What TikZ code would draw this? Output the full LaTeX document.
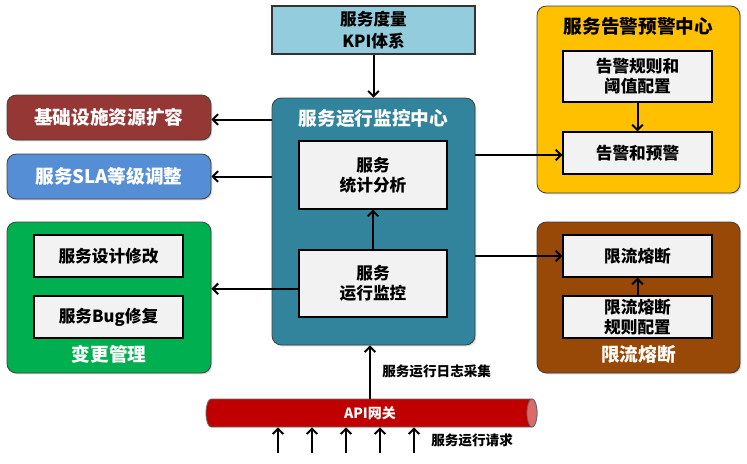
\documentclass[tikz,border=0pt]{standalone}
\usepackage{fontspec}
\setmainfont{Noto Sans CJK SC}
\usetikzlibrary{arrows.meta,shadows}
\definecolor{kpiblue}{HTML}{93CDDD}
\definecolor{monteal}{HTML}{31849B}
\definecolor{infrared}{HTML}{953735}
\definecolor{slablue}{HTML}{558ED5}
\definecolor{chggreen}{HTML}{00B050}
\definecolor{alertyellow}{HTML}{FFC000}
\definecolor{limbrown}{HTML}{984807}
\definecolor{innergray}{HTML}{F2F2F2}
\definecolor{apired}{HTML}{C00000}
\definecolor{apiend}{HTML}{D96B6B}
\begin{document}
\begin{tikzpicture}[x=0.75pt,y=-0.75pt,
  sz/.style 2 args={minimum width=#1, minimum height=#2},
  outer/.style={draw=black!75, line width=0.6pt, rounded corners=7pt, inner sep=0pt,
    drop shadow={shadow xshift=1pt, shadow yshift=-1pt, opacity=0.3}},
  plainbox/.style={draw=black!80, line width=0.8pt, inner sep=0pt,
    drop shadow={shadow xshift=1pt, shadow yshift=-1pt, opacity=0.25}},
  inner/.style={draw=black, line width=0.9pt, fill=innergray, inner sep=0pt, align=center,
    font=\bfseries\fontsize{12.5}{15}\selectfont,
    drop shadow={shadow xshift=1pt, shadow yshift=-1pt, opacity=0.25}},
  title/.style={font=\bfseries\fontsize{14}{16}\selectfont, inner sep=0pt},
  small/.style={font=\bfseries\fontsize{10.2}{12}\selectfont, inner sep=0pt},
  arr/.style={line width=1.5pt, -{Straight Barb[length=4pt,width=8pt]}}
]
\useasboundingbox (0,0) rectangle (747,464);

% KPI
\node[plainbox, fill=kpiblue, sz={152.25pt}{36pt}, align=center,
  font=\bfseries\fontsize{12.5}{16.5}\selectfont] (kpi) at (373.5,30) {服务度量\\KPI体系};

% monitoring center
\node[outer, fill=monteal, sz={152.25pt}{185.25pt}] (mon) at (373.5,221.5) {};
\node[title, text=white] (montitle) at (373.5,118) {服务运行监控中心};
\node[inner, sz={111pt}{51pt}] (stat) at (373,175) {服务\\统计分析};
\node[inner, sz={111pt}{50.25pt}] (run) at (373,283.5) {服务\\运行监控};
\draw[arr] (kpi.south) -- (kpi.south |- mon.north);
\draw[arr] (run.north) -- (stat.south);

% left boxes
\node[outer, fill=infrared, sz={153pt}{33.75pt}, title, text=white] (infra) at (109,117.5) {基础设施资源扩容};
\node[outer, fill=slablue, sz={153pt}{33.75pt}, title, text=white] (sla) at (109,176.5) {服务SLA等级调整};
\draw[arr] ([yshift=-1.5pt]mon.west |- infra) -- ([yshift=-1.5pt]infra.east);
\draw[arr] (mon.west |- sla) -- (sla.east);

% change management
\node[outer, fill=chggreen, sz={153pt}{113.25pt}] (chg) at (109,297.5) {};
\node[inner, sz={111.75pt}{31.5pt}] (design) at (108.5,256) {服务设计修改};
\node[inner, sz={111.75pt}{31.5pt}] (bug) at (108.5,317) {服务Bug修复};
\node[title, text=white] (chgtitle) at (109,354) {变更管理};
\draw[arr] ([yshift=-4pt]run.west) -- ([yshift=-4pt]run.west -| chg.east);

% alert center
\node[outer, fill=alertyellow, sz={152.25pt}{140.25pt}] (alert) at (638.5,99.5) {};
\node[title, text=black] (alerttitle) at (638.5,26) {服务告警预警中心};
\node[inner, sz={111.75pt}{38.25pt}] (rule) at (637.5,76.5) {告警规则和\\阈值配置};
\node[inner, sz={111.75pt}{31.5pt}] (warn) at (637.5,153) {告警和预警};
\draw[arr] (rule.south) -- (warn.north);
\draw[arr] ([yshift=-1.5pt]mon.east |- warn) -- ([yshift=-1.5pt]warn.west);

% rate limiting
\node[outer, fill=limbrown, sz={152.25pt}{113.25pt}] (lim) at (638.5,297.5) {};
\node[inner, sz={111.75pt}{31.5pt}] (fuse) at (637.5,256) {限流熔断};
\node[inner, sz={111.75pt}{31.5pt}] (fuserule) at (637.5,317) {限流熔断\\规则配置};
\node[title, text=white] (limtitle) at (638.5,354) {限流熔断};
\draw[arr] (fuserule.north) -- (fuse.south);
\draw[arr] (mon.east |- fuse) -- (fuse.west);

% API gateway cylinder
\filldraw[fill=apired, draw=black!60, line width=0.6pt]
  (211,399) -- (532,399) arc[start angle=90, end angle=-90, x radius=3.75pt, y radius=10.5pt]
  -- (211,427) arc[start angle=270, end angle=90, x radius=3.75pt, y radius=10.5pt] -- cycle;
\filldraw[fill=apiend, draw=black!60, line width=0.6pt] (532,413) ellipse[x radius=3.75pt, y radius=10.5pt];
\node[sz={248.25pt}{21pt}, inner sep=0pt, text=white,
  font=\bfseries\fontsize{10.5}{12}\selectfont] (api) at (370,413) {API网关};

\draw[arr] (api.north) -- (api.north |- mon.south);
\node[small, anchor=west] (loglbl) at (382,371) {服务运行日志采集};

\coordinate (q1) at (278,453);
\coordinate (q2) at (312,453);
\coordinate (q3) at (346,453);
\coordinate (q4) at (380,453);
\coordinate (q5) at (414,453);
\foreach \q in {q1,q2,q3,q4,q5} \draw[arr] (\q) -- (\q |- api.south);
\node[small, anchor=west] (reqlbl) at (431,440) {服务运行请求};
\end{tikzpicture}
\end{document}
